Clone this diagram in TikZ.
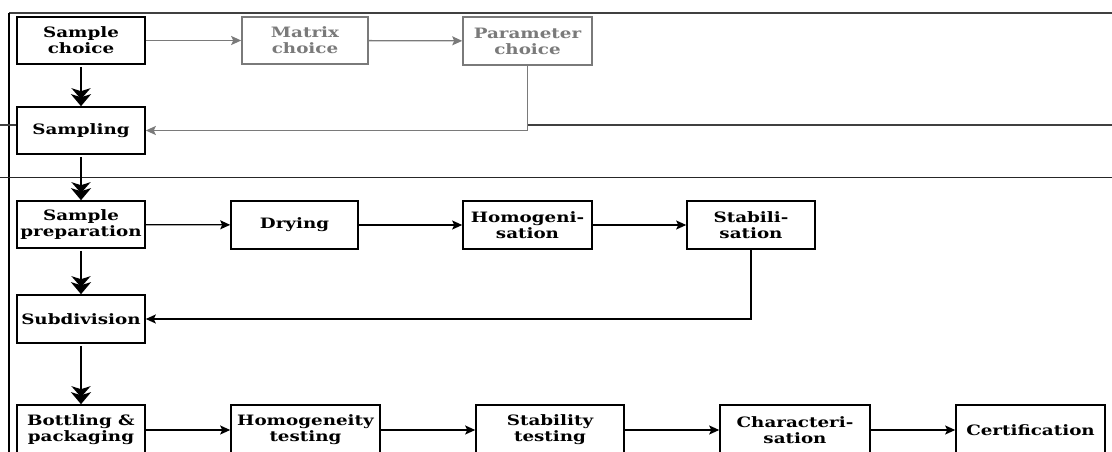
\documentclass[tikz,border=0pt]{standalone}
\usepackage{fontspec}
\setmainfont{DejaVu Serif}[FakeStretch=1.28]
\usetikzlibrary{arrows.meta}
\definecolor{faded}{HTML}{7A7A7A}
\tikzset{
  box/.style={draw, line width=1.6pt, rectangle, inner sep=0pt, align=center,
    font=\fontsize{14.3}{16}\selectfont\bfseries, fill=white},
  gbox/.style={box, draw=faded, text=faded},
  flow/.style={line width=1.3pt, -{Stealth[length=10pt,width=9pt,inset=2pt]}},
  gflow/.style={flow, draw=faded},
  down/.style={line width=2.8pt, shorten <=2pt, -{Stealth[length=11pt,width=19pt,inset=3pt,sep=-5pt]Stealth[length=12pt,width=20pt,inset=3pt]}},
  rule/.style={line width=1.1pt}
}
\begin{document}
\begin{tikzpicture}[x=1pt,y=-1pt]
\useasboundingbox (0,0) rectangle (1112,452);
\clip (0,0) rectangle (1112,452);
% frame
\draw[rule, draw=black!75] (9,13) -- (1112,13);
\draw[rule] (9,13) -- (9,460);
% nodes
\node[box, minimum width=128pt, minimum height=47pt] (sc) at (81,40.5) {Sample\\choice};
\node[gbox, minimum width=126pt, minimum height=47pt] (mc) at (305,40.5) {Matrix\\choice};
\node[gbox, minimum width=129pt, minimum height=48pt] (pc) at (527.5,41) {Parameter\\choice};
\node[box, minimum width=128pt, minimum height=47pt] (samp) at (81,130.5) {Sampling};
\node[box, minimum width=128pt, minimum height=47pt] (prep) at (81,224.5) {Sample\\preparation};
\node[box, minimum width=127pt, minimum height=48pt] (dry) at (294.5,225) {Drying};
\node[box, minimum width=129pt, minimum height=48pt] (hom) at (527.5,225) {Homogeni-\\sation};
\node[box, minimum width=128pt, minimum height=48pt] (stab) at (751,225) {Stabili-\\sation};
\node[box, minimum width=128pt, minimum height=48pt] (sub) at (81,319) {Subdivision};
\node[box, minimum width=128pt, minimum height=50pt] (bott) at (81,430) {Bottling \&\\packaging};
\node[box, minimum width=149pt, minimum height=50pt] (homt) at (305.5,430) {Homogeneity\\testing};
\node[box, minimum width=148pt, minimum height=50pt] (stabt) at (550,430) {Stability\\testing};
\node[box, minimum width=150pt, minimum height=50pt] (char) at (795,430) {Characteri-\\sation};
\node[box, minimum width=149pt, minimum height=50pt] (cert) at (1030.5,430) {Certification};
% dividers
\coordinate (dl) at (0,125);
\coordinate (dr) at (1112,125);
\coordinate (el) at (0,177.5);
\coordinate (er) at (1112,177.5);
\draw[rule, draw=black!75] (dl) -- (dl -| samp.west);
\draw[rule, draw=black!75] (pc.south |- dl) -- (dr);
\draw[rule, draw=black!85] (el) -- (er);
% top row
\draw[gflow] (sc) -- (mc);
\draw[gflow] (mc) -- (pc);
\draw[gflow] (pc.south) -- (pc.south |- samp.east) -- (samp.east);
% vertical
\draw[down] (sc) -- (samp);
\draw[down] (samp) -- (prep);
\draw[down] (prep) -- (sub);
\draw[down] (sub) -- (bott);
% middle row
\draw[flow] (prep) -- (dry);
\draw[flow] (dry) -- (hom);
\draw[flow] (hom) -- (stab);
\draw[flow] (stab.south) -- (stab.south |- sub.east) -- (sub.east);
% bottom row
\draw[flow] (bott) -- (homt);
\draw[flow] (homt) -- (stabt);
\draw[flow] (stabt) -- (char);
\draw[flow] (char) -- (cert);
\end{tikzpicture}
\end{document}
